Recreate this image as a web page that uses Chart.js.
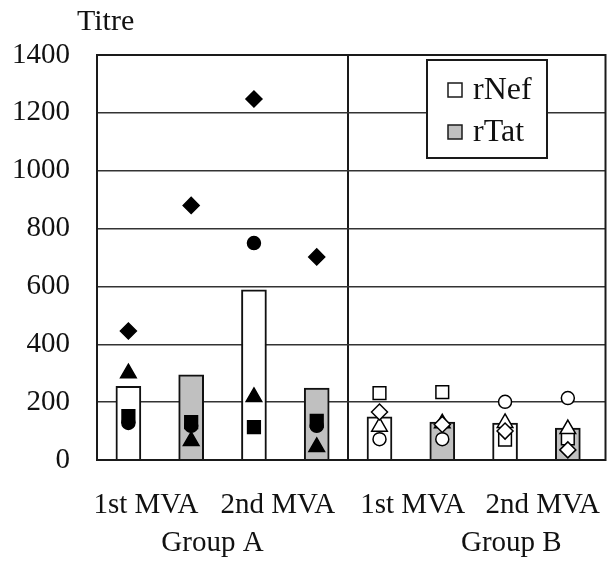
<!DOCTYPE html>
<html>
<head>
<meta charset="utf-8">
<script src="https://cdn.jsdelivr.net/npm/chart.js@4"></script>
<style>
  html, body { margin: 0; padding: 0; background: #fff; }
</style>
</head>
<body>
<canvas id="chart" width="616" height="561"></canvas>
<script>
// slots, left to right: each group has 1st/2nd MVA, each with rNef then rTat
var groups = ["Group A", "Group B"];
var visits = ["1st MVA", "2nd MVA", "1st MVA", "2nd MVA"];
var antigens = ["rNef", "rTat"];
var yTicks = [0, 200, 400, 600, 800, 1000, 1200, 1400];

// mean titre bars (per group x visit)
var rNefBars = [255, 588, 149, 128];
var rTatBars = [294, 249, 131, 110];

// individual animals, one value per slot (8 slots)
var diamondValues  = [446, 880, 1248, 702, 166, 123, 100, 35];
var triangleValues = [300, 66, 218, 45, 115, 127, 128, 107];
var squareValues   = [152, 131, 114, 135, 231, 235, 70, 75];
var circleValues   = [128, 118, 750, 118, 72, 72, 201, 214];

var FONT = "'Liberation Serif', 'DejaVu Serif', serif";
var NEF_FILL = "#ffffff";
var TAT_FILL = "#c0c0c0";

function barData(vals, offset) {
  return vals.map(function (v, k) { return { x: 2 * k + offset + 0.5, y: v }; });
}
function pointData(vals) {
  return vals.map(function (v, i) { return { x: i + 0.5, y: v }; });
}
function pointFill(vals) {
  // group A filled black, group B open
  return vals.map(function (v, i) { return Math.floor(i / 4) === 0 ? "#000" : "#fff"; });
}
function markers(label, vals, style, r) {
  return {
    type: "line",
    label: label,
    data: pointData(vals),
    showLine: false,
    pointStyle: style,
    pointRadius: r,
    pointBackgroundColor: pointFill(vals),
    pointBorderColor: "#000",
    pointBorderWidth: 1.5,
    order: 1
  };
}
function noSidePadding(s) {
  s.paddingLeft = 0;
  s.paddingRight = 0;
}

var framePlugin = {
  id: "frame",
  afterDraw: function (chart) {
    var c = chart.ctx, a = chart.chartArea;
    c.save();
    c.strokeStyle = "#1a1a1a";
    c.lineWidth = 2;
    c.strokeRect(a.left, a.top, a.right - a.left, a.bottom - a.top);

    // axis title
    c.fillStyle = "#111";
    c.font = "30px " + FONT;
    c.textBaseline = "alphabetic";
    c.textAlign = "left";
    c.fillText("Titre", a.left - 20, 30);

    // legend box
    var lx = a.left + 330, ly = a.top + 5, lw = 120, lh = 98;
    c.fillStyle = "#fff";
    c.fillRect(lx, ly, lw, lh);
    c.strokeRect(lx, ly, lw, lh);
    var fills = [NEF_FILL, TAT_FILL];
    c.font = "32px " + FONT;
    c.textBaseline = "middle";
    antigens.forEach(function (name, i) {
      var cy = ly + 30 + i * 42;
      c.fillStyle = fills[i];
      c.fillRect(lx + 21, cy - 7, 14, 14);
      c.lineWidth = 1.5;
      c.strokeRect(lx + 21, cy - 7, 14, 14);
      c.fillStyle = "#111";
      c.fillText(name, lx + 46, cy + 1);
    });
    c.restore();
  }
};

new Chart(document.getElementById("chart"), {
  type: "bar",
  data: {
    datasets: [
      {
        label: antigens[0],
        data: barData(rNefBars, 0),
        backgroundColor: NEF_FILL,
        borderColor: "#111",
        borderWidth: 2,
        barThickness: 25,
        grouped: false,
        order: 2
      },
      {
        label: antigens[1],
        data: barData(rTatBars, 1),
        backgroundColor: TAT_FILL,
        borderColor: "#111",
        borderWidth: 2,
        barThickness: 25,
        grouped: false,
        order: 2
      },
      markers("diamond", diamondValues, "rectRot", 8),
      markers("triangle", triangleValues, "triangle", 9),
      markers("square", squareValues, "rect", 9),
      markers("circle", circleValues, "circle", 6.5)
    ]
  },
  options: {
    responsive: false,
    animation: false,
    events: [],
    layout: { padding: { left: 0, right: 9, top: 55, bottom: 0 } },
    plugins: {
      legend: { display: false },
      tooltip: { enabled: false },
      title: { display: false }
    },
    scales: {
      x: {
        type: "linear",
        position: "bottom",
        offset: false,
        min: 0,
        max: 8.1,
        weight: 0,
        afterBuildTicks: function (s) {
          s.ticks = [{ value: 0.78 }, { value: 2.88 }, { value: 4 }, { value: 5.03 }, { value: 7.1 }];
        },
        afterFit: function (s) { s.height = 66; noSidePadding(s); },
        ticks: {
          autoSkip: false,
          maxRotation: 0,
          padding: 28,
          color: "#111",
          font: { family: FONT, size: 29 },
          callback: function (v, i) {
            if (i === 2) return "";
            return visits[i < 2 ? i : i - 1];
          }
        },
        grid: {
          drawTicks: false,
          offset: false,
          color: function (ctx) { return ctx.tick && ctx.tick.value === 4 ? "#1a1a1a" : "rgba(0,0,0,0)"; },
          lineWidth: 2
        },
        border: { display: false }
      },
      x2: {
        type: "linear",
        position: "bottom",
        offset: false,
        min: 0,
        max: 8.1,
        weight: 1,
        afterBuildTicks: function (s) {
          s.ticks = [{ value: 1.84 }, { value: 6.6 }];
        },
        afterFit: function (s) { s.height = 35; noSidePadding(s); },
        ticks: {
          autoSkip: false,
          maxRotation: 0,
          padding: 0,
          color: "#111",
          font: { family: FONT, size: 29 },
          callback: function (v, i) { return groups[i]; }
        },
        grid: { display: false, drawTicks: false },
        border: { display: false }
      },
      y: {
        min: 0,
        max: 1400,
        afterBuildTicks: function (s) {
          s.ticks = yTicks.map(function (v) { return { value: v }; });
        },
        afterFit: function (s) { s.width = 97; },
        ticks: {
          padding: 27,
          color: "#111",
          font: { family: FONT, size: 29 },
          callback: function (v) { return String(v); }
        },
        grid: { drawTicks: false, color: "#333", lineWidth: 1.5 },
        border: { display: false }
      }
    }
  },
  plugins: [framePlugin]
});
</script>
</body>
</html>
